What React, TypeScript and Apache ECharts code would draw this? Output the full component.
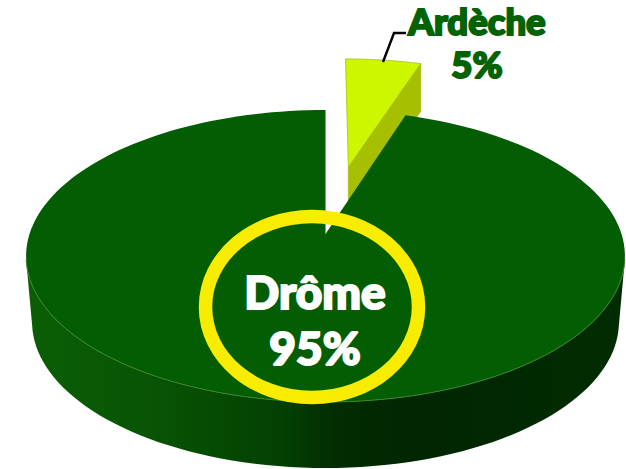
import React, { useEffect, useRef } from "react";
import * as echarts from "echarts";

const categories = ["Ardèche", "Drôme"];
const shares = [5, 95];
const explodedIndex = 0;

const total = shares.reduce((a, b) => a + b, 0);
const P = 0.1507, A = 142.7, B = 296, CX = 325.5, CY = 234;
const BASE_S = 0.98, BODY_DEPTH = 66, SLICE_DEPTH = 48;
const EXPLODE_U = 0.083, EXPLODE_V = 0.505;

function project(u: number, v: number, depth = 0): number[] {
  const w = 1 + P * v;
  const s = depth ? BASE_S : 1;
  return [CX + (B * s * u) / w, CY + depth - (A * v) / w];
}
function rim(a0: number, a1: number, depth = 0, du = 0, dv = 0): number[][] {
  const pts: number[][] = [];
  const n = Math.max(2, Math.ceil(Math.abs(a1 - a0) / 2));
  for (let i = 0; i <= n; i++) {
    const t = ((a0 + ((a1 - a0) * i) / n) * Math.PI) / 180;
    pts.push(project(Math.sin(t) + du, Math.cos(t) + dv, depth));
  }
  return pts;
}

function renderSlice(params: any, api: any) {
  const value = api.value(0) as number;
  const start = api.value(1) as number;
  const index = api.value(2) as number;
  const a0 = (start / total) * 360;
  const a1 = ((start + value) / total) * 360;
  if (index === explodedIndex) {
    const top = rim(a0, a1, 0, EXPLODE_U, EXPLODE_V);
    const apex = project(EXPLODE_U, EXPLODE_V);
    const end = top[top.length - 1];
    const side = [end, apex, [apex[0], apex[1] + SLICE_DEPTH], [end[0], end[1] + SLICE_DEPTH]];
    return {
      type: "group",
      children: [
        { type: "polygon", shape: { points: side }, style: { fill: "#a6bf00", stroke: "#98b000", lineWidth: 0.6 } },
        { type: "polygon", shape: { points: [apex, ...top] }, style: { fill: "#ccf700", stroke: "#a9c400", lineWidth: 0.8 } },
      ],
    };
  }
  const apex = project(0, 0);
  const sideTop = rim(258, 102);
  const sideBase = rim(100, 260, BODY_DEPTH);
  const gradient = new echarts.graphic.LinearGradient(0, 0, 1, 0, [
    { offset: 0, color: "#0b5e05" },
    { offset: 0.2, color: "#085504" },
    { offset: 0.43, color: "#034002" },
    { offset: 0.52, color: "#022c01" },
    { offset: 0.65, color: "#012601" },
    { offset: 1, color: "#012c01" },
  ]);
  return {
    type: "group",
    children: [
      { type: "polygon", shape: { points: [...sideTop, ...sideBase] }, style: { fill: gradient } },
      { type: "polygon", shape: { points: [apex, ...rim(a0, a1)] }, style: { fill: "#035d03" } },
      { type: "polyline", shape: { points: rim(100, 260) }, style: { fill: "none", stroke: "#3c8526", lineWidth: 1 } },
    ],
  };
}

function label(name: string, share: number, x: number, y1: number, y2: number, size: number, color: string) {
  const font = { fontFamily: "Lato", fontWeight: 900, fontSize: size, fill: color, stroke: color, lineWidth: 2, textAlign: "center", textVerticalAlign: "middle" };
  return [
    { type: "text", z: 20, x, y: y1, style: { ...font, text: name } },
    { type: "text", z: 20, x, y: y2, style: { ...font, text: `${share}%` } },
  ];
}

export default function App() {
  const ref = useRef<HTMLDivElement>(null);
  useEffect(() => {
    const chart = echarts.init(ref.current!, undefined, { renderer: "svg" });
    let running = 0;
    const rows = shares.map((s, i) => {
      const row = { name: categories[i], value: [s, running, i] };
      running += s;
      return row;
    });
    chart.setOption({
      animation: false,
      backgroundColor: "#ffffff",
      series: [
        {
          type: "custom",
          coordinateSystem: "none",
          renderItem: renderSlice,
          data: rows,
        },
      ],
      graphic: [
        { type: "ellipse", z: 15, shape: { cx: 312, cy: 307, rx: 106.5, ry: 90.5 }, style: { fill: "none", stroke: "#f8ec00", lineWidth: 13.5 } },
        { type: "polyline", z: 15, shape: { points: [[383, 62], [394, 33], [406, 33]] }, style: { fill: "none", stroke: "#000000", lineWidth: 2.4 } },
        ...label(categories[1], shares[1], 315, 291, 347, 46, "#ffffff"),
        ...label(categories[0], shares[0], 477, 21, 64, 36.5, "#036203"),
      ],
    });
    return () => chart.dispose();
  }, []);
  return <div ref={ref} style={{ position: "absolute", left: 0, top: 0, width: 626, height: 469 }} />;
}
